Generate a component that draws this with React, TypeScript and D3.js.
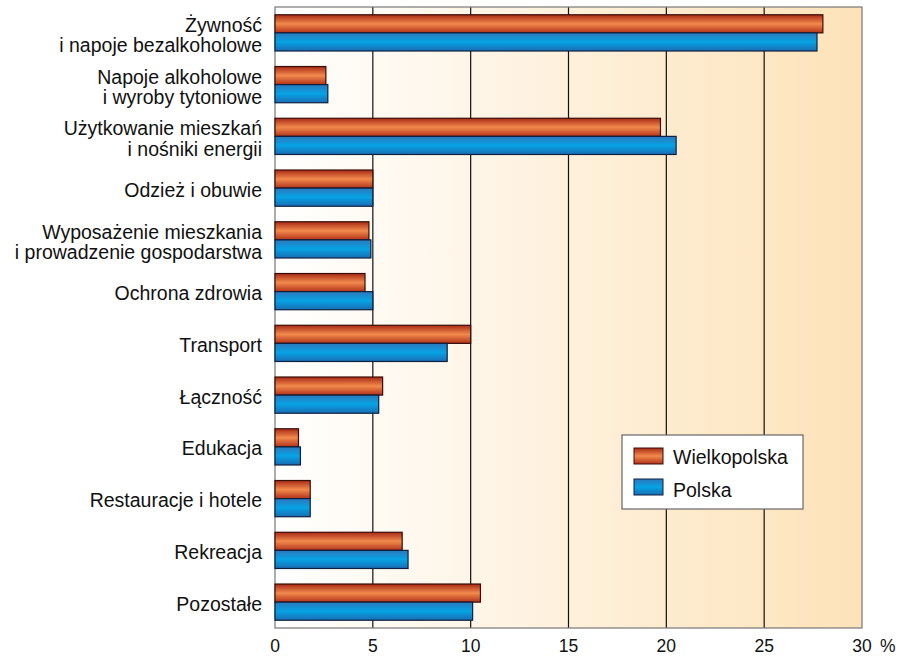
import { useEffect, useRef } from 'react'
import * as d3 from 'd3'

const categories = [
  ['Żywność', 'i napoje bezalkoholowe'],
  ['Napoje alkoholowe', 'i wyroby tytoniowe'],
  ['Użytkowanie mieszkań', 'i nośniki energii'],
  ['Odzież i obuwie'],
  ['Wyposażenie mieszkania', 'i prowadzenie gospodarstwa'],
  ['Ochrona zdrowia'],
  ['Transport'],
  ['Łączność'],
  ['Edukacja'],
  ['Restauracje i hotele'],
  ['Rekreacja'],
  ['Pozostałe'],
]
const wielkopolska = [28.0, 2.6, 19.7, 5.0, 4.8, 4.6, 10.0, 5.5, 1.2, 1.8, 6.5, 10.5]
const polska = [27.7, 2.7, 20.5, 5.0, 4.9, 5.0, 8.8, 5.3, 1.3, 1.8, 6.8, 10.1]
const seriesNames = ['Wielkopolska', 'Polska']
const xTicks = [0, 5, 10, 15, 20, 25, 30]

const FONT = 'Liberation Sans, Arial, sans-serif'

const App = () => {
  const svgRef = useRef<SVGSVGElement | null>(null)

  useEffect(() => {
    if (!svgRef.current) return
    const svg = d3.select(svgRef.current)
    svg.selectAll('*').remove()

    const width = 901
    const height = 656
    const margin = { top: 7, right: 39, bottom: 28, left: 275 }
    const innerW = width - margin.left - margin.right
    const innerH = height - margin.top - margin.bottom

    const defs = svg.append('defs')
    const bg = defs.append('linearGradient').attr('id', 'bg').attr('x1', 0).attr('x2', 1).attr('y1', 0).attr('y2', 0)
    bg.append('stop').attr('offset', '0%').attr('stop-color', '#ffffff')
    bg.append('stop').attr('offset', '100%').attr('stop-color', '#fde2b8')

    const red = defs.append('linearGradient').attr('id', 'red').attr('x1', 0).attr('x2', 0).attr('y1', 0).attr('y2', 1)
    red.append('stop').attr('offset', '0%').attr('stop-color', '#a82a16')
    red.append('stop').attr('offset', '50%').attr('stop-color', '#f28a4c')
    red.append('stop').attr('offset', '100%').attr('stop-color', '#b2321a')

    const blue = defs.append('linearGradient').attr('id', 'blue').attr('x1', 0).attr('x2', 0).attr('y1', 0).attr('y2', 1)
    blue.append('stop').attr('offset', '0%').attr('stop-color', '#2c78bc')
    blue.append('stop').attr('offset', '50%').attr('stop-color', '#06a3e4')
    blue.append('stop').attr('offset', '100%').attr('stop-color', '#1a6db4')

    const g = svg.append('g').attr('transform', `translate(${margin.left},${margin.top})`)

    const x = d3.scaleLinear().domain([0, 30]).range([0, innerW])
    const y = d3
      .scaleBand<number>()
      .domain(d3.range(categories.length))
      .range([0, innerH])
      .paddingInner(0.3)
      .paddingOuter(0.15)
    const sub = d3.scaleBand<number>().domain([0, 1]).range([0, y.bandwidth()])

    // background
    g.append('rect').attr('width', innerW).attr('height', innerH).attr('fill', 'url(#bg)')

    // grid lines
    g.selectAll('line.grid')
      .data(xTicks.slice(1, -1))
      .join('line')
      .attr('x1', (d) => x(d))
      .attr('x2', (d) => x(d))
      .attr('y1', 0)
      .attr('y2', innerH)
      .attr('stroke', '#111')
      .attr('stroke-width', 1.2)

    g.append('rect')
      .attr('width', innerW)
      .attr('height', innerH)
      .attr('fill', 'none')
      .attr('stroke', '#777')
      .attr('stroke-width', 1.2)

    // bars
    const series = [wielkopolska, polska]
    const fills = ['url(#red)', 'url(#blue)']
    const strokes = ['#3a0c06', '#0c2040']
    series.forEach((vals, s) => {
      g.append('g')
        .selectAll('rect')
        .data(vals)
        .join('rect')
        .attr('x', 0)
        .attr('y', (_, i) => (y(i) ?? 0) + (sub(s) ?? 0))
        .attr('width', (d) => x(d))
        .attr('height', sub.bandwidth())
        .attr('fill', fills[s])
        .attr('stroke', strokes[s])
        .attr('stroke-width', 1.2)
    })

    // category labels
    const labels = g
      .append('g')
      .selectAll('text')
      .data(categories)
      .join('text')
      .attr('x', -13)
      .attr('y', (_, i) => (y(i) ?? 0) + y.bandwidth() / 2)
      .attr('text-anchor', 'end')
      .attr('font-family', FONT)
      .attr('font-size', 19.5)
      .attr('fill', '#111')
    labels.each(function (lines) {
      const t = d3.select(this)
      lines.forEach((line, k) => {
        t.append('tspan')
          .attr('x', -13)
          .attr('dy', k === 0 ? (lines.length === 1 ? 8.5 : -1) : 20.5)
          .text(line)
      })
    })

    // x tick labels
    g.append('g')
      .selectAll('text')
      .data(xTicks)
      .join('text')
      .attr('x', (d) => x(d))
      .attr('y', innerH + 24)
      .attr('text-anchor', 'middle')
      .attr('font-family', FONT)
      .attr('font-size', 17.5)
      .attr('fill', '#111')
      .text((d) => String(d))
    g.append('text')
      .attr('x', x(30) + 18)
      .attr('y', innerH + 24)
      .attr('font-family', FONT)
      .attr('font-size', 17.5)
      .attr('fill', '#111')
      .text('%')

    // legend
    const lg = g.append('g').attr('transform', `translate(${622 - margin.left},${435 - margin.top})`)
    lg.append('rect')
      .attr('width', 181)
      .attr('height', 74)
      .attr('fill', '#fff')
      .attr('stroke', '#666')
      .attr('stroke-width', 1.2)
    seriesNames.forEach((name, s) => {
      lg.append('rect')
        .attr('x', 12)
        .attr('y', 13 + s * 31)
        .attr('width', 29)
        .attr('height', 16)
        .attr('fill', fills[s])
        .attr('stroke', strokes[s])
        .attr('stroke-width', 1)
      lg.append('text')
        .attr('x', 51)
        .attr('y', 29 + s * 33)
        .attr('font-family', FONT)
        .attr('font-size', 19.5)
        .attr('fill', '#111')
        .text(name)
    })
  }, [])

  return <svg ref={svgRef} width={901} height={656} style={{ position: 'absolute', left: 0, top: 0 }}></svg>
}

export default App
